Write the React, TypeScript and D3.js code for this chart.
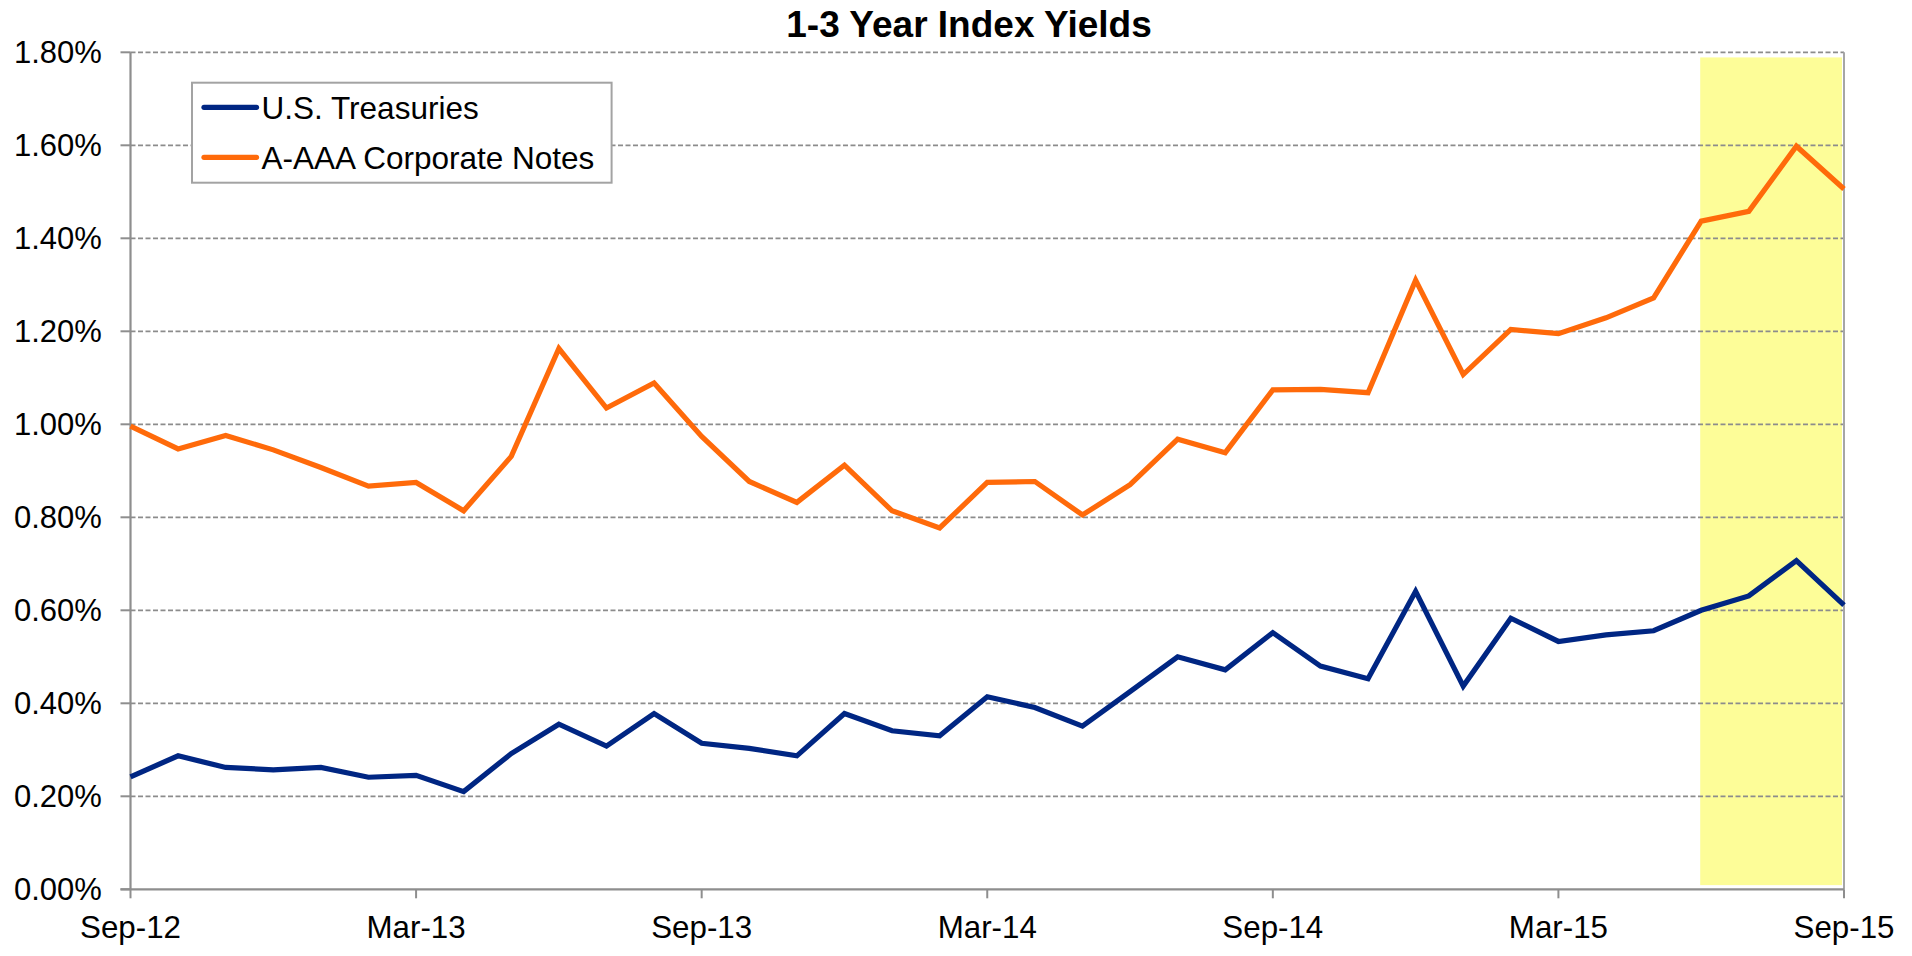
import React, { useEffect } from "react";
import * as d3 from "d3";

const months: string[] = [
  "Sep-12","Oct-12","Nov-12","Dec-12","Jan-13","Feb-13","Mar-13","Apr-13","May-13","Jun-13","Jul-13","Aug-13",
  "Sep-13","Oct-13","Nov-13","Dec-13","Jan-14","Feb-14","Mar-14","Apr-14","May-14","Jun-14","Jul-14","Aug-14",
  "Sep-14","Oct-14","Nov-14","Dec-14","Jan-15","Feb-15","Mar-15","Apr-15","May-15","Jun-15","Jul-15","Aug-15","Sep-15",
];

const treasuries: number[] = [
  0.242, 0.287, 0.262, 0.257, 0.262, 0.241, 0.245, 0.210, 0.292, 0.355, 0.308, 0.378,
  0.314, 0.303, 0.287, 0.378, 0.341, 0.330, 0.414, 0.391, 0.351, 0.425, 0.500, 0.472,
  0.552, 0.480, 0.453, 0.641, 0.437, 0.583, 0.533, 0.547, 0.556, 0.600, 0.631, 0.707, 0.611,
];

const corporates: number[] = [
  0.996, 0.947, 0.976, 0.945, 0.907, 0.867, 0.875, 0.814, 0.931, 1.163, 1.035, 1.089,
  0.974, 0.877, 0.832, 0.912, 0.814, 0.777, 0.875, 0.877, 0.805, 0.870, 0.968, 0.939,
  1.074, 1.075, 1.068, 1.310, 1.107, 1.204, 1.195, 1.229, 1.272, 1.437, 1.458, 1.598, 1.506,
];

const xTickLabels: string[] = ["Sep-12", "Mar-13", "Sep-13", "Mar-14", "Sep-14", "Mar-15", "Sep-15"];
const yTicks: number[] = [0, 0.2, 0.4, 0.6, 0.8, 1.0, 1.2, 1.4, 1.6, 1.8];
const seriesNames: string[] = ["U.S. Treasuries", "A-AAA Corporate Notes"];
const highlightMonths: string[] = ["Jun-15", "Sep-15"];
const highlightRange: number[] = [0.009, 1.789];

const W = 1912;
const H = 956;
const FONT = "'Liberation Sans', Arial, Helvetica, sans-serif";
const BLUE = "#002683";
const ORANGE = "#FF6A0A";
const GRID = "#8c8c8c";
const AXIS = "#8e8e8e";
const LW = 5.2;

export default function App() {
  useEffect(() => {
    document.body.style.margin = "0";
  }, []);

  const x = d3.scaleLinear().domain([0, months.length - 1]).range([130.5, 1844]);
  const y = d3.scaleLinear().domain([0, 1.8]).range([889.3, 52.3]);
  const idx = (m: string) => months.indexOf(m);

  const line = d3
    .line<number>()
    .x((_, i) => x(i))
    .y((d) => y(d));

  const x0 = x(0);
  const x1 = x(months.length - 1);
  const yBase = y(0);

  return (
    <svg width={W} height={H} style={{ display: "block", background: "#fff" }} fontFamily={FONT}>
      {/* highlight */}
      <rect
        x={x(idx(highlightMonths[0])) - 1}
        y={y(highlightRange[1])}
        width={x(idx(highlightMonths[1])) - x(idx(highlightMonths[0])) - 1}
        height={y(highlightRange[0]) - y(highlightRange[1])}
        fill="#FDFD98"
      />
      {/* gridlines */}
      {yTicks.filter((t) => t > 0).map((t) => (
        <line
          key={"g" + t}
          x1={x0}
          x2={x1}
          y1={y(t)}
          y2={y(t)}
          stroke={GRID}
          strokeWidth={1.8}
          strokeDasharray="5,2.5"
        />
      ))}
      {/* right border */}
      <line x1={x1} x2={x1} y1={y(1.8)} y2={yBase} stroke="#a6a6a6" strokeWidth={2} />
      {/* axes */}
      <line x1={x0} x2={x0} y1={y(1.8)} y2={yBase} stroke={AXIS} strokeWidth={2.2} />
      <line x1={x0 - 10} x2={x1} y1={yBase} y2={yBase} stroke={AXIS} strokeWidth={2.2} />
      {yTicks.map((t) => (
        <g key={"yt" + t}>
          <line x1={x0 - 10} x2={x0} y1={y(t)} y2={y(t)} stroke={AXIS} strokeWidth={2} />
          <text x={101.8} y={y(t) + 11} textAnchor="end" fontSize={31} fill="#000">
            {d3.format(".2f")(t) + "%"}
          </text>
        </g>
      ))}
      {xTickLabels.map((m) => (
        <g key={"xt" + m}>
          <line x1={x(idx(m))} x2={x(idx(m))} y1={yBase} y2={yBase + 9} stroke={AXIS} strokeWidth={2} />
          <text x={x(idx(m))} y={937.5} textAnchor="middle" fontSize={31.3} fill="#000">
            {m}
          </text>
        </g>
      ))}
      {/* series */}
      <path d={line(corporates) || ""} fill="none" stroke={ORANGE} strokeWidth={LW} strokeLinejoin="miter" />
      <path d={line(treasuries) || ""} fill="none" stroke={BLUE} strokeWidth={LW} strokeLinejoin="miter" />
      {/* title */}
      <text x={969} y={37} textAnchor="middle" fontSize={37} fontWeight="bold" fill="#000">
        1-3 Year Index Yields
      </text>
      {/* legend */}
      <rect x={192} y={82.7} width={419.6} height={100} fill="#fff" stroke="#a3a3a3" strokeWidth={2} />
      {seriesNames.map((name, i) => (
        <g key={name}>
          <line
            x1={204}
            x2={256.5}
            y1={107.3 + i * 50}
            y2={107.3 + i * 50}
            stroke={i === 0 ? BLUE : ORANGE}
            strokeWidth={LW}
            strokeLinecap="round"
          />
          <text x={261.6} y={118.5 + i * 50} fontSize={31.5} fill="#000">
            {name}
          </text>
        </g>
      ))}
    </svg>
  );
}
